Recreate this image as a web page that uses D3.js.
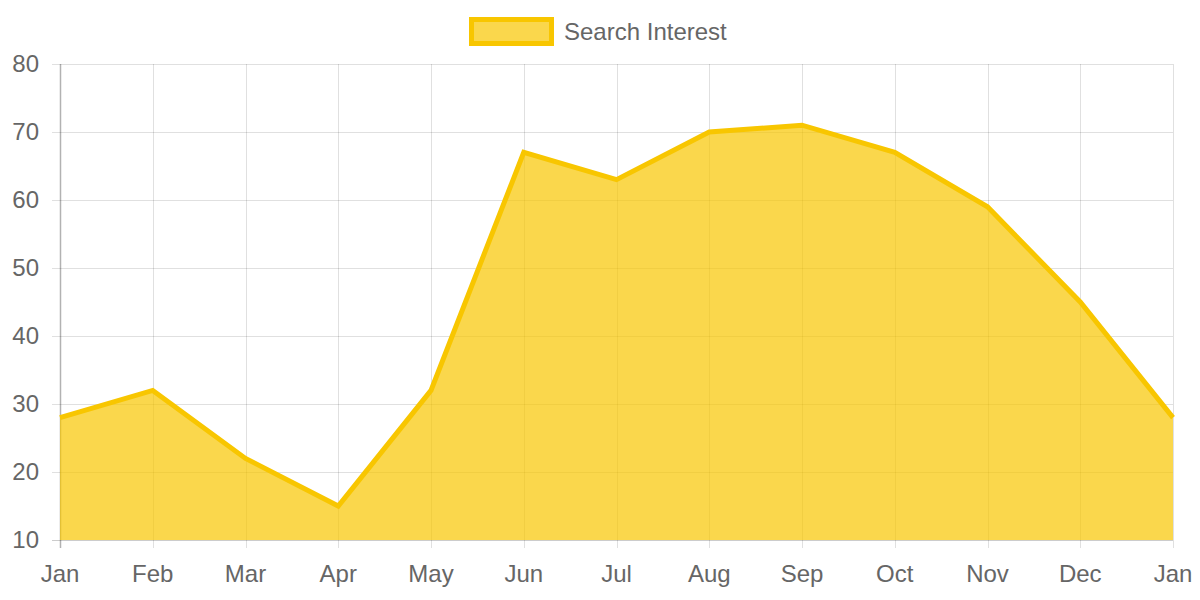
<!DOCTYPE html>
<html>
<head>
<meta charset="utf-8">
<script src="https://cdn.jsdelivr.net/npm/d3@7"></script>
<style>
  body { margin: 0; background: #fff; }
  svg { display: block; font-family: "Liberation Sans", Arial, sans-serif; }
</style>
</head>
<body>
<svg width="1200" height="600"></svg>
<script>
// data
const months = ["Jan", "Feb", "Mar", "Apr", "May", "Jun", "Jul", "Aug", "Sep", "Oct", "Nov", "Dec", "Jan"];
const interest = [28, 32, 22, 15, 32, 67, 63, 70, 71, 67, 59, 45, 28];
const yTicks = [10, 20, 30, 40, 50, 60, 70, 80];
const seriesName = "Search Interest";

const svg = d3.select("svg"),
    plotLeft = 60, plotRight = 1173, plotTop = 64, plotBottom = 540;

const x = d3.scalePoint().domain(d3.range(months.length)).range([plotLeft, plotRight]);
const y = d3.scaleLinear().domain([10, 80]).range([plotBottom, plotTop]);

const grid = "rgba(0,0,0,0.12)";
const textColor = "#666";

// vertical grid + tick marks
svg.append("g")
    .selectAll("line")
    .data(d3.range(months.length))
    .join("line")
    .attr("x1", d => Math.round(x(d)) + 0.5).attr("x2", d => Math.round(x(d)) + 0.5)
    .attr("y1", plotTop).attr("y2", plotBottom + 8)
    .attr("stroke", d => d === 0 ? "rgba(0,0,0,0.3)" : grid)
    .attr("stroke-width", d => d === 0 ? 1.5 : 1);

// horizontal grid + tick marks
svg.append("g")
    .selectAll("line")
    .data(yTicks)
    .join("line")
    .attr("x1", plotLeft - 8).attr("x2", plotRight)
    .attr("y1", d => Math.round(y(d)) + 0.5).attr("y2", d => Math.round(y(d)) + 0.5)
    .attr("stroke", d => d === 10 ? "rgba(0,0,0,0.2)" : grid)
    .attr("stroke-width", 1);

// area + line
const area = d3.area()
    .x((d, i) => x(i))
    .y0(y(10))
    .y1(d => y(d));

const line = d3.line()
    .x((d, i) => x(i))
    .y(d => y(d));

svg.append("path")
    .datum(interest)
    .attr("d", area)
    .attr("fill", "rgba(248,198,0,0.7)");

svg.append("path")
    .datum(interest)
    .attr("d", line)
    .attr("fill", "none")
    .attr("stroke", "#f8c600")
    .attr("stroke-width", 5)
    .attr("stroke-linejoin", "miter");

// y labels
svg.append("g")
    .selectAll("text")
    .data(yTicks)
    .join("text")
    .attr("x", 39)
    .attr("y", d => y(d))
    .attr("dy", "0.35em")
    .attr("text-anchor", "end")
    .attr("fill", textColor)
    .style("font-size", "24px")
    .text(d => d);

// x labels
svg.append("g")
    .selectAll("text")
    .data(months)
    .join("text")
    .attr("x", (d, i) => x(i))
    .attr("y", 574)
    .attr("dy", "0.35em")
    .attr("text-anchor", "middle")
    .attr("fill", textColor)
    .style("font-size", "24px")
    .text(d => d);

// legend
const lg = svg.append("g");
lg.append("rect")
    .attr("x", 471.5).attr("y", 19.5)
    .attr("width", 80).attr("height", 24)
    .attr("fill", "rgba(248,198,0,0.7)")
    .attr("stroke", "#f8c600")
    .attr("stroke-width", 5);
lg.append("text")
    .attr("x", 564).attr("y", 32)
    .attr("dy", "0.35em")
    .attr("fill", textColor)
    .style("font-size", "24px")
    .text(seriesName);
</script>
</body>
</html>
